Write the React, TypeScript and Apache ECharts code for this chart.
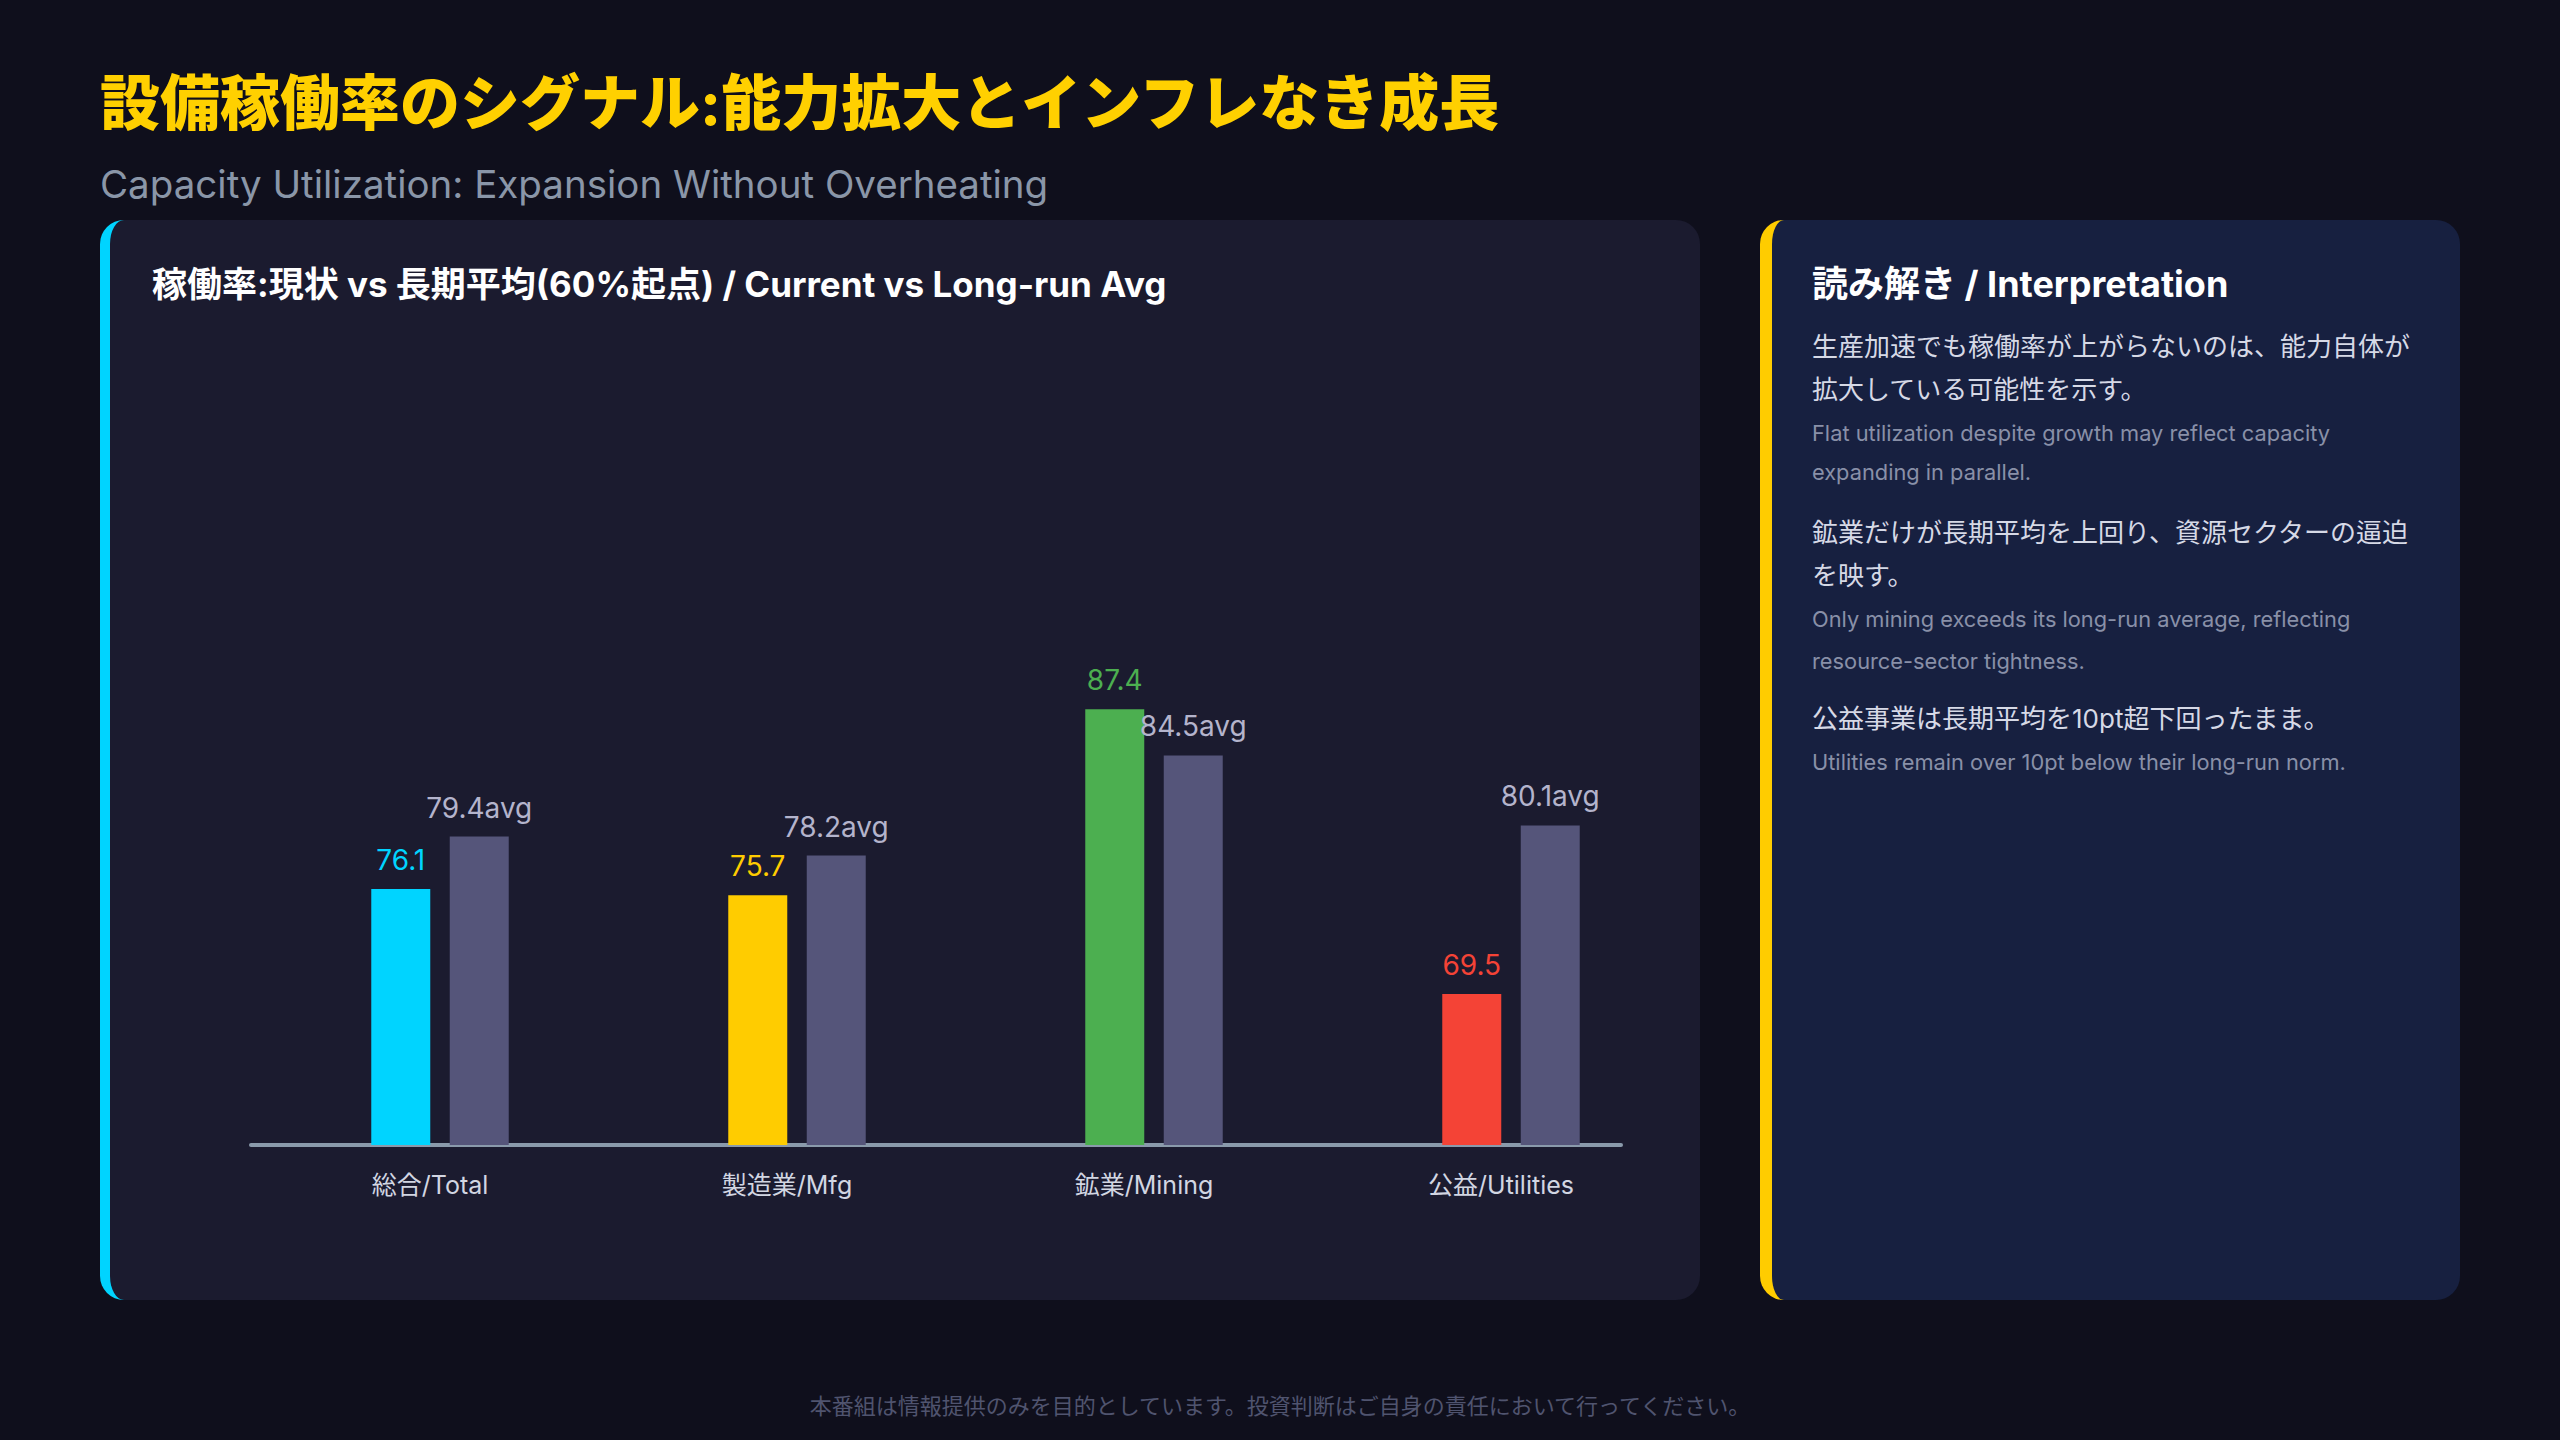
import React, { useEffect, useRef } from "react";
import * as echarts from "echarts";

// ---- data ----
const categories = ["総合/Total", "製造業/Mfg", "鉱業/Mining", "公益/Utilities"];
const currentValues = [76.1, 75.7, 87.4, 69.5];
const longRunAvg = [79.4, 78.2, 84.5, 80.1];
const barColors = ["#00d4ff", "#ffcc00", "#4caf50", "#f44336"];
const axisMin = 60;
const axisMax = 100;

const titleText = "設備稼働率のシグナル:能力拡大とインフレなき成長";
const subtitleText = "Capacity Utilization: Expansion Without Overheating";
const chartHeader = "稼働率:現状 vs 長期平均(60%起点) / Current vs Long-run Avg";
const sideTitle = "読み解き / Interpretation";
const sideLines: { t: string; y: number; jp: boolean }[] = [
  { t: "生産加速でも稼働率が上がらないのは、能力自体が", y: 346, jp: true },
  { t: "拡大している可能性を示す。", y: 389, jp: true },
  { t: "Flat utilization despite growth may reflect capacity", y: 433, jp: false },
  { t: "expanding in parallel.", y: 472, jp: false },
  { t: "鉱業だけが長期平均を上回り、資源セクターの逼迫", y: 532, jp: true },
  { t: "を映す。", y: 575, jp: true },
  { t: "Only mining exceeds its long-run average, reflecting", y: 619, jp: false },
  { t: "resource-sector tightness.", y: 661, jp: false },
  { t: "公益事業は長期平均を10pt超下回ったまま。", y: 718, jp: true },
  { t: "Utilities remain over 10pt below their long-run norm.", y: 762, jp: false },
];
const footerText = "本番組は情報提供のみを目的としています。投資判断はご自身の責任において行ってください。";

const FONT = "Inter, 'Noto Sans CJK JP', sans-serif";

function Line(props: { text: string; x: number; cy: number; size: number; lh: number; color: string; weight?: number; center?: boolean }) {
  const { text, x, cy, size, lh, color, weight, center } = props;
  return (
    <div
      style={{
        position: "absolute",
        left: center ? 0 : x,
        width: center ? 2560 : undefined,
        textAlign: center ? "center" : "left",
        top: cy - lh / 2,
        height: lh,
        lineHeight: lh + "px",
        fontSize: size,
        fontWeight: weight ?? 400,
        color,
        whiteSpace: "nowrap",
        fontFamily: FONT,
      }}
    >
      {text}
    </div>
  );
}

export default function App() {
  const ref = useRef<HTMLDivElement>(null);

  useEffect(() => {
    const chart = echarts.init(ref.current!, null, { renderer: "svg" });
    chart.setOption({
      animation: false,
      backgroundColor: "transparent",
      textStyle: { fontFamily: FONT },
      grid: [
        { left: 261.5, top: 509, width: 1428, height: 636 },
        { left: 251, top: 509, width: 1370, height: 636 },
      ],
      xAxis: [
        {
          type: "category",
          gridIndex: 0,
          data: categories,
          axisLine: { show: false },
          axisTick: { show: false },
          axisLabel: { color: "#d2d6e2", fontSize: 25, margin: 27, padding: [0, 20, 0, 0] },
        },
        {
          type: "value",
          gridIndex: 1,
          min: 0,
          max: 1,
          axisLine: { show: true, onZero: false, lineStyle: { color: "#8a9aab", width: 4 } },
          axisTick: { show: false },
          axisLabel: { show: false },
          splitLine: { show: false },
        },
      ],
      yAxis: [
        { type: "value", gridIndex: 0, min: axisMin, max: axisMax, show: false, splitLine: { show: false } },
        { type: "value", gridIndex: 1, min: 0, max: 1, show: false, splitLine: { show: false } },
      ],
      series: [
        {
          name: "Current",
          type: "bar",
          xAxisIndex: 0,
          yAxisIndex: 0,
          barWidth: 59,
          barGap: "33%",
          data: currentValues.map((v, i) => ({
            value: v,
            itemStyle: { color: barColors[i] },
            label: { color: barColors[i] },
          })),
          label: { show: true, position: "top", distance: 15, fontSize: 28, fontFamily: FONT },
        },
        {
          name: "Long-run Avg",
          type: "bar",
          xAxisIndex: 0,
          yAxisIndex: 0,
          barWidth: 59,
          barGap: "33%",
          data: longRunAvg,
          itemStyle: { color: "#55557a" },
          label: {
            show: true,
            position: "top",
            distance: 15,
            fontSize: 28,
            color: "#b4b4cc",
            fontFamily: FONT,
            formatter: "{c}avg",
          },
        },
      ],
    });
    return () => chart.dispose();
  }, []);

  return (
    <div
      style={{
        position: "fixed",
        left: 0,
        top: 0,
        width: 2560,
        height: 1440,
        background: "#0f0f1c",
        overflow: "hidden",
        fontFamily: FONT,
      }}
    >
      <Line text={titleText} x={100} cy={103} size={60} lh={72} color="#ffd000" weight={800} />
      <Line text={subtitleText} x={100} cy={184} size={38.5} lh={46} color="#8a96a8" />

      <div
        style={{
          position: "absolute",
          left: 100,
          top: 220,
          width: 1600,
          height: 1080,
          background: "#1b1b2f",
          borderRadius: 24,
          borderLeft: "10px solid #00d4ff",
          boxSizing: "border-box",
        }}
      />
      <Line text={chartHeader} x={152} cy={284} size={35} lh={42} color="#ffffff" weight={700} />

      <div
        style={{
          position: "absolute",
          left: 1760,
          top: 220,
          width: 700,
          height: 1080,
          background: "#172040",
          borderRadius: 24,
          borderLeft: "12px solid #ffcc00",
          boxSizing: "border-box",
        }}
      />
      <Line text={sideTitle} x={1812} cy={284} size={36} lh={44} color="#ffffff" weight={700} />
      {sideLines.map((l, i) =>
        l.jp ? (
          <Line key={i} text={l.t} x={1812} cy={l.y} size={26} lh={43} color="#d6d9e6" />
        ) : (
          <Line key={i} text={l.t} x={1812} cy={l.y} size={21.8} lh={40} color="#8990a8" />
        )
      )}

      <Line text={footerText} x={0} cy={1406} size={22} lh={30} color="#50546f" center />

      <div ref={ref} style={{ position: "absolute", left: 0, top: 0, width: 2560, height: 1440 }} />
    </div>
  );
}
